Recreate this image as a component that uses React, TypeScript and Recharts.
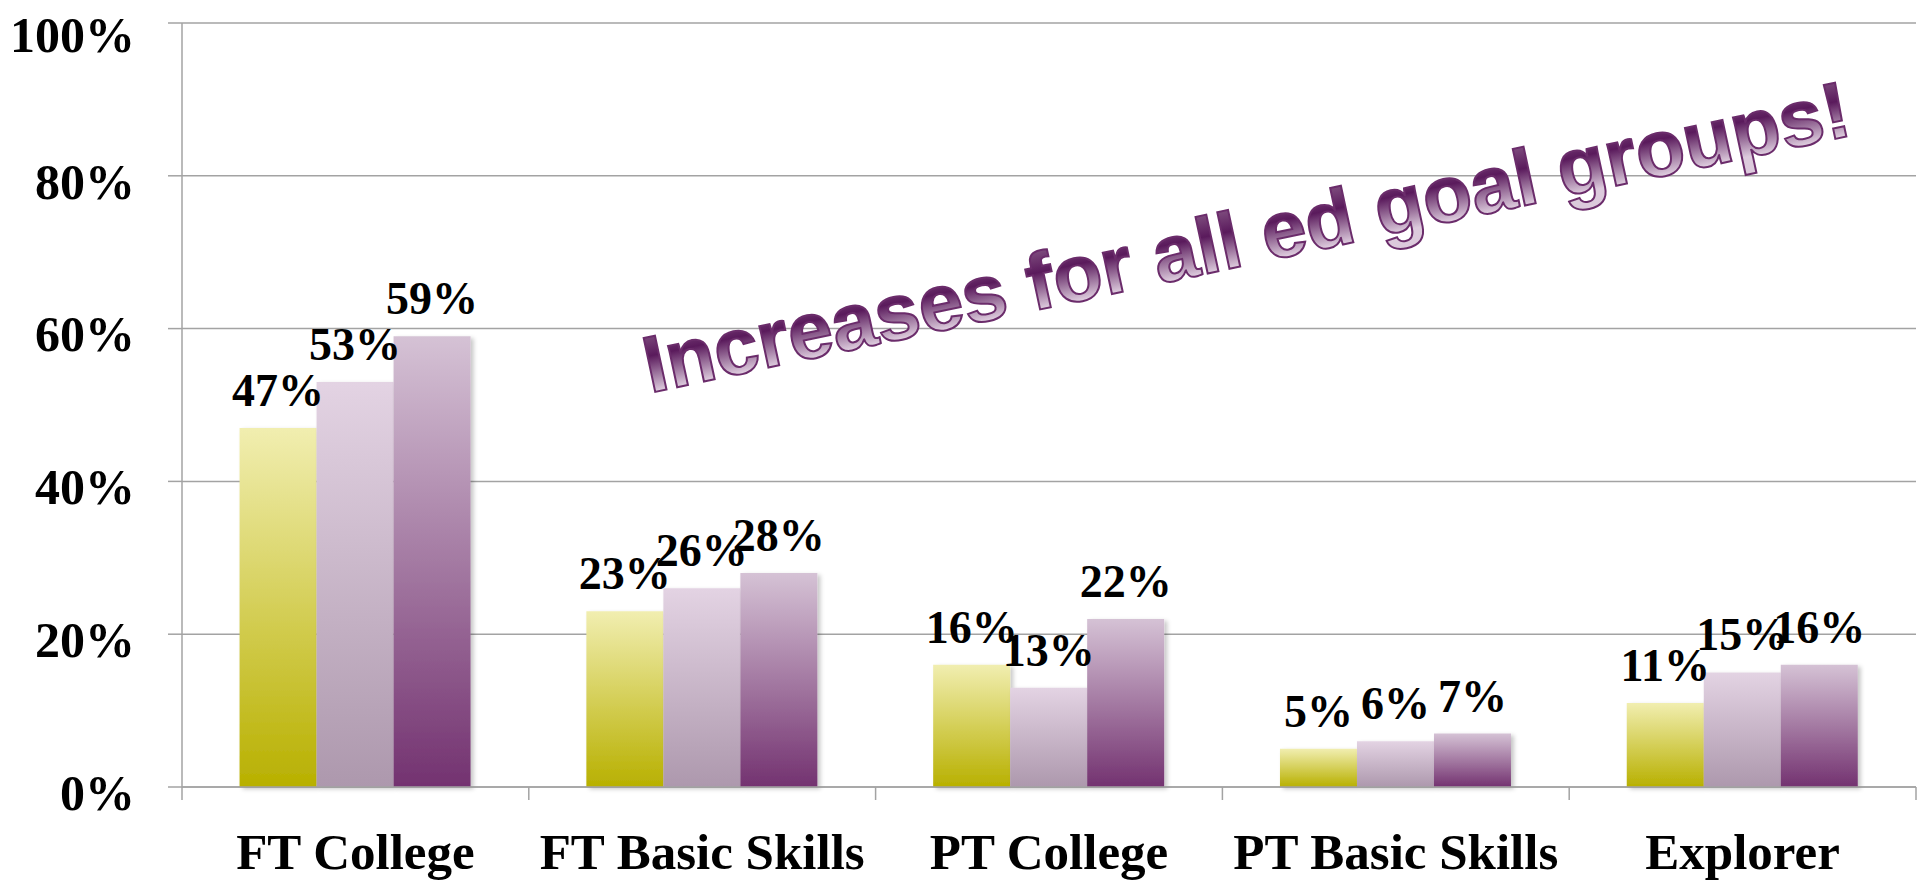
import { Bar, BarChart, CartesianGrid, Customized, LabelList, XAxis, YAxis } from "recharts";

// ed goal groups
const categories = ["FT College", "FT Basic Skills", "PT College", "PT Basic Skills", "Explorer"];

// three successive cohorts, percent
const series1 = [47, 23, 16, 5, 11];
const series2 = [53, 26, 13, 6, 15];
const series3 = [59, 28, 22, 7, 16];

const yTicks = [0, 20, 40, 60, 80, 100];

const note = "Increases for all ed goal groups!";

const data = categories.map((cat, i) => ({
  cat,
  s1: series1[i],
  s2: series2[i],
  s3: series3[i],
}));

const GRID = "#a3a3a3";
const SERIF = '"Liberation Serif", "Times New Roman", serif';

const CatTick = (props: any) => {
  const { x, y, payload, index, visibleTicksCount, width } = props;
  const half = payload?.offset || width / visibleTicksCount / 2;
  const top = y - 46;
  return (
    <g>
      <line x1={x - half} x2={x - half} y1={top} y2={top + 13} stroke={GRID} strokeWidth={1.5} />
      {index === visibleTicksCount - 1 && (
        <line x1={x + half} x2={x + half} y1={top} y2={top + 13} stroke={GRID} strokeWidth={1.5} />
      )}
      <text
        x={x}
        y={y}
        dy="0.71em"
        textAnchor="middle"
        fill="#000"
        fontFamily={SERIF}
        fontWeight="bold"
        fontSize={51}
      >
        {payload.value}
      </text>
    </g>
  );
};

const Note = () => (
  <text
    x={1252}
    y={264}
    textAnchor="middle"
    transform="rotate(-12.1 1252 264)"
    fontFamily='"Liberation Sans", Arial, sans-serif'
    fontWeight="bold"
    fontSize={80}
    fill="url(#noteFill)"
    stroke="#6b2c6b"
    strokeWidth={2}
  >
    {note}
  </text>
);

const labelStyle = {
  fill: "#000",
  fontFamily: SERIF,
  fontWeight: "bold" as const,
  fontSize: 46,
};

export default function App() {
  return (
    <div style={{ position: "absolute", left: 0, top: 0, width: 1925, height: 880, background: "#fff" }}>
      <BarChart
        width={1925}
        height={880}
        data={data}
        margin={{ top: 23, right: 9, bottom: 0, left: 0 }}
        barCategoryGap="16.6%"
        barGap={0}
      >
        <defs>
          <linearGradient id="g1" x1="0" y1="0" x2="0" y2="1">
            <stop offset="0%" stopColor="#f1eeb0" />
            <stop offset="100%" stopColor="#b8b000" />
          </linearGradient>
          <linearGradient id="g2" x1="0" y1="0" x2="0" y2="1">
            <stop offset="0%" stopColor="#e3d3e3" />
            <stop offset="100%" stopColor="#ad98ad" />
          </linearGradient>
          <linearGradient id="g3" x1="0" y1="0" x2="0" y2="1">
            <stop offset="0%" stopColor="#d5c2d5" />
            <stop offset="100%" stopColor="#733270" />
          </linearGradient>
          <linearGradient id="noteFill" x1="0" y1="0" x2="0" y2="1">
            <stop offset="15%" stopColor="#7e4c7e" />
            <stop offset="40%" stopColor="#5a1a5c" />
            <stop offset="80%" stopColor="#dccadc" />
          </linearGradient>
          <filter id="barShadow" x="-10%" y="-10%" width="130%" height="130%">
            <feDropShadow dx="3" dy="2" stdDeviation="2" floodColor="#000" floodOpacity="0.22" />
          </filter>
        </defs>
        <CartesianGrid vertical={false} stroke={GRID} strokeWidth={1.5} />
        <XAxis
          dataKey="cat"
          height={93}
          axisLine={{ stroke: GRID, strokeWidth: 1.5 }}
          tickLine={false}
          tickSize={13}
          tickMargin={33}
          interval={0}
          tick={<CatTick />}
        />
        <YAxis
          width={182}
          domain={[0, 100]}
          ticks={yTicks}
          tickFormatter={(v: number) => `${v}%`}
          axisLine={{ stroke: GRID, strokeWidth: 1.5 }}
          tickLine={{ stroke: GRID, strokeWidth: 1.5 }}
          tickSize={14}
          tickMargin={33}
          tick={{ fill: "#000", fontFamily: SERIF, fontWeight: "bold", fontSize: 50, dy: 5 }}
        />
        <Bar dataKey="s1" name="Series 1" fill="url(#g1)" filter="url(#barShadow)" isAnimationActive={false}>
          <LabelList dataKey="s1" position="top" offset={22} formatter={(v: any) => `${v}%`} style={labelStyle} />
        </Bar>
        <Bar dataKey="s2" name="Series 2" fill="url(#g2)" filter="url(#barShadow)" isAnimationActive={false}>
          <LabelList dataKey="s2" position="top" offset={22} formatter={(v: any) => `${v}%`} style={labelStyle} />
        </Bar>
        <Bar dataKey="s3" name="Series 3" fill="url(#g3)" filter="url(#barShadow)" isAnimationActive={false}>
          <LabelList dataKey="s3" position="top" offset={22} formatter={(v: any) => `${v}%`} style={labelStyle} />
        </Bar>
        <Customized component={Note} />
      </BarChart>
    </div>
  );
}
